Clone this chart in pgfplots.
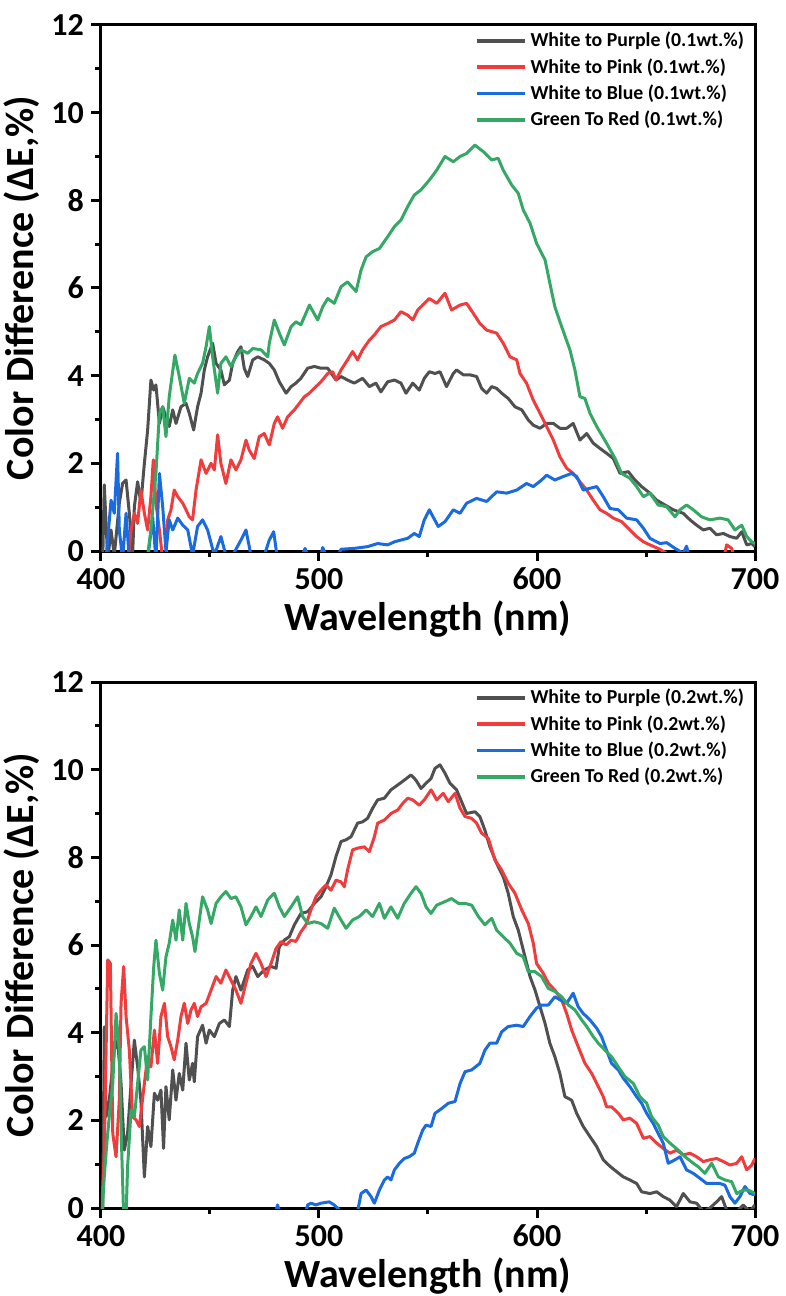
\documentclass[border=0pt]{standalone}
\usepackage{fontspec}
\setmainfont{Carlito}
\usepackage{pgfplots}
\pgfplotsset{compat=1.18}
\definecolor{cgray}{HTML}{505050}
\definecolor{cred}{HTML}{F03C3C}
\definecolor{cblue}{HTML}{1A6BE0}
\definecolor{cgreen}{HTML}{35A866}

\pgfplotsset{
  panel/.style={
    width=327pt, height=263pt, scale only axis,
    xmin=400, xmax=700, ymin=0, ymax=12,
    xtick={400,500,600,700}, ytick={0,2,4,6,8,10,12},
    minor x tick num=1, minor y tick num=1,
    tick align=outside, tick pos=left,
    axis line style={line width=1.5pt},
    major tick length=5pt, minor tick length=3pt,
    every tick/.style={black, line width=1.5pt},
    /pgf/number format/assume math mode=true,
    tick label style={font=\fontsize{16}{18}\selectfont\bfseries},
    label style={font=\fontsize{20}{23}\selectfont\bfseries},
    xlabel={Wavelength (nm)},
    ylabel={Color Difference (ΔE,\%)},
    xlabel style={yshift=1.5pt},
    ylabel style={yshift=-1pt},
    legend style={at={(rel axis cs:0.99,0.995)}, anchor=north east,
      draw=none, fill=none, inner sep=0pt, row sep=0.3pt,
      font=\fontsize{9.9}{12.5}\selectfont\bfseries},
    legend cell align=left,
    legend image code/.code={\draw[#1, line width=1.8pt] (0pt,0pt) -- (24pt,0pt);},
    every axis plot/.append style={line width=1.5pt, line join=round},
  }
}

\begin{document}
\begin{tikzpicture}
\useasboundingbox (-50.5pt,-372.5pt) rectangle (342.5pt,275.5pt);

% upper panel, 0.1 wt.%
\begin{axis}[panel, at={(0pt,0pt)}, anchor=south west]
\addplot[cgray] coordinates {
(400.8,-0.2) (401.5,1.51) (403.1,-0.2) (404.6,0.48) (406.1,-0.1) (408.4,1.09) (409.9,1.54) (411.5,1.62)
(413.0,0.86) (414.5,-0.1) (415.3,1.01) (416.8,1.58) (418.3,1.09) (419.9,2.0) (421.4,2.76) (422.9,3.90)
(424.2,3.67) (425.2,3.79) (426.8,2.91) (428.3,3.29) (429.8,3.06) (431.3,2.84) (432.9,3.22) (434.4,2.91)
(436.7,3.29) (439.0,3.37) (440.5,3.14) (442.5,2.76) (444.3,3.29) (445.9,3.60) (447.4,4.13) (448.9,4.43)
(451.2,4.74) (452.8,4.28) (455.0,4.13) (456.6,3.79) (458.9,3.90) (460.4,4.28) (462.7,4.55) (464.2,4.66)
(465.7,4.17) (467.3,3.98) (469.6,4.36) (471.9,4.43) (474.9,4.36) (477.2,4.28) (479.5,4.13) (481.8,3.86)
(484.9,3.60) (487.2,3.75) (489.4,3.83) (491.7,3.94) (494.8,4.17) (497.9,4.21) (500.9,4.17) (504.0,4.17)
(507.8,3.90) (510.1,3.98) (513.1,3.90) (516.2,3.83) (520.0,3.94) (523.1,3.75) (526.1,3.83) (528.4,3.63)
(531.5,3.86) (534.6,3.90) (537.6,3.83) (539.9,3.60) (543.0,3.83) (546.0,3.67) (548.3,3.94) (550.6,4.09)
(553.2,4.05) (555.5,4.09) (558.5,3.75) (561.6,4.05) (563.1,4.13) (566.2,4.02) (569.2,4.02) (572.3,3.98)
(574.6,3.71) (576.9,3.60) (579.2,3.75) (581.5,3.71) (583.8,3.60) (586.8,3.48) (589.9,3.29) (593.0,3.22)
(596.0,2.99) (598.3,2.87) (601.4,2.80) (604.4,2.91) (607.5,2.91) (610.5,2.80) (613.6,2.80) (616.6,2.91)
(619.7,2.53) (622.8,2.68) (625.8,2.46) (628.9,2.34) (631.9,2.23) (635.0,2.11) (638.1,1.77) (641.9,1.81)
(644.9,1.62) (648.0,1.47) (651.8,1.32) (654.9,1.16) (658.7,1.05) (662.5,0.94) (667.1,0.86) (670.2,0.71)
(673.2,0.59) (676.3,0.48) (679.3,0.52) (682.4,0.37) (685.5,0.40) (688.5,0.33) (691.6,0.29) (693.9,0.44)
(696.2,0.14) (698.5,0.17) (700.0,0.10)
};
\addlegendentry{White to Purple (0.1wt.\%)}
\addplot[cred] coordinates {
(412.5,-0.2) (413.8,0.48) (415.3,0.86) (416.8,0.63) (418.3,1.39) (419.9,0.86) (421.4,0.48) (422.9,1.24)
(424.0,2.08) (425.2,1.09) (426.8,0.48) (428.3,-0.2) (429.8,-0.2) (430.6,0.71) (432.1,0.94) (433.6,1.39)
(435.2,1.24) (437.5,1.09) (439.0,0.94) (440.5,0.78) (442.0,0.71) (443.6,1.39) (445.9,2.08) (448.2,1.77)
(450.5,2.00) (452.0,1.85) (453.5,2.65) (455.0,2.00) (457.3,1.54) (459.6,2.08) (461.9,1.85) (464.2,2.08)
(466.5,2.53) (468.0,2.30) (470.3,2.11) (472.6,2.61) (474.9,2.68) (477.2,2.42) (479.5,2.91) (481.0,3.06)
(483.3,2.80) (485.6,3.06) (488.7,3.22) (491.0,3.37) (493.3,3.52) (495.6,3.60) (498.6,3.75) (500.9,3.86)
(504.0,4.05) (506.3,4.09) (507.8,3.90) (510.1,4.13) (513.1,4.36) (515.4,4.55) (517.7,4.36) (520.0,4.59)
(523.1,4.81) (525.4,4.93) (528.4,5.12) (531.5,5.19) (534.6,5.27) (537.6,5.46) (540.7,5.38) (543.0,5.27)
(545.3,5.50) (548.3,5.65) (550.6,5.76) (554.0,5.65) (557.8,5.88) (560.8,5.50) (564.7,5.61) (567.7,5.65)
(570.8,5.42) (573.8,5.19) (576.9,5.04) (581.5,4.97) (584.5,4.74) (587.6,4.43) (590.7,4.36) (592.2,4.05)
(595.2,3.83) (598.3,3.44) (601.4,3.14) (604.4,2.84) (607.5,2.53) (610.5,2.15) (613.6,1.89) (616.6,1.77)
(619.7,1.58) (622.8,1.39) (625.8,1.16) (628.9,0.94) (631.9,0.86) (635.0,0.75) (638.8,0.67) (642.6,0.48)
(645.7,0.33) (648.8,0.21) (651.8,0.14) (656.4,0.04) (661.0,-0.1) (667.1,-0.2) (685.5,-0.2) (687.0,0.14)
(689.3,0.06) (690.8,-0.2)
};
\addlegendentry{White to Pink (0.1wt.\%)}
\addplot[cblue] coordinates {
(402.3,-0.2) (404.6,1.16) (406.1,0.86) (407.6,2.23) (408.4,0.48) (409.9,-0.2) (411.5,0.86) (413.0,-0.2)
(421.4,-0.2) (423.7,0.78) (425.2,-0.2) (426.8,1.77) (428.3,1.01) (429.8,0.0) (431.3,0.71) (432.9,0.48)
(435.2,0.75) (437.5,0.59) (439.8,0.48) (442.0,-0.1) (444.3,0.56) (446.6,0.71) (448.9,0.48) (452.0,-0.1)
(455.0,0.33) (457.3,-0.1) (460.4,-0.1) (464.2,0.25) (466.5,0.48) (468.8,-0.1) (474.9,-0.1) (477.2,0.25)
(479.2,0.44) (481.0,-0.2) (491.7,-0.2) (493.6,0.06) (494.8,-0.1) (500.9,-0.1) (501.7,0.08) (503.2,-0.1)
(509.3,-0.05) (510.1,0.04) (516.2,0.06) (522.3,0.10) (526.9,0.17) (531.5,0.14) (534.6,0.21) (537.6,0.25)
(540.7,0.29) (543.7,0.40) (546.0,0.33) (548.3,0.71) (550.6,0.94) (554.7,0.56) (557.8,0.67) (561.6,0.94)
(564.7,0.86) (567.7,1.09) (572.3,1.20) (576.9,1.13) (581.5,1.35) (586.1,1.32) (590.7,1.39) (595.2,1.54)
(598.3,1.47) (602.1,1.62) (604.4,1.73) (608.2,1.62) (612.1,1.70) (615.9,1.77) (618.2,1.70) (621.2,1.39)
(624.3,1.43) (627.4,1.47) (630.4,1.24) (633.5,0.97) (637.3,0.94) (641.1,0.75) (645.7,0.71) (648.8,0.52)
(651.8,0.29) (656.4,0.17) (659.5,0.19) (663.3,0.06) (667.1,-0.05) (668.6,0.11) (670.2,-0.2)
};
\addlegendentry{White to Blue (0.1wt.\%)}
\addplot[cgreen] coordinates {
(421.4,-0.1) (422.9,0.48) (425.2,1.77) (426.8,3.14) (428.3,3.29) (429.8,2.61) (431.3,3.52) (433.9,4.47)
(435.9,3.98) (438.2,3.37) (440.5,3.94) (442.8,3.83) (444.3,4.05) (446.6,4.28) (448.2,4.66) (449.7,5.12)
(451.2,4.43) (453.5,3.60) (455.0,4.28) (457.3,4.43) (459.6,4.21) (461.9,4.43) (464.2,4.59) (467.3,4.51)
(469.6,4.62) (473.4,4.59) (476.5,4.43) (477.2,4.74) (479.5,5.27) (481.8,4.97) (484.1,4.70) (487.2,5.12)
(489.4,5.23) (491.7,5.16) (495.6,5.61) (499.4,5.27) (501.7,5.57) (504.0,5.76) (507.0,5.65) (510.1,6.03)
(513.1,6.14) (517.0,5.92) (519.3,6.41) (521.6,6.71) (524.6,6.83) (527.7,6.90) (531.5,7.17) (534.6,7.40)
(537.6,7.55) (540.7,7.86) (543.7,8.12) (546.8,8.24) (550.6,8.46) (554.0,8.69) (557.8,9.00) (561.6,8.88)
(564.7,9.00) (567.7,9.07) (571.5,9.26) (575.4,9.11) (579.2,8.92) (582.2,8.96) (584.5,8.69) (588.4,8.35)
(591.4,8.16) (593.7,7.78) (596.8,7.48) (599.8,7.02) (603.7,6.64) (605.9,6.11) (608.2,5.57) (611.3,5.12)
(615.1,4.59) (617.4,4.13) (619.7,3.52) (622.0,3.48) (624.3,3.14) (627.4,2.84) (631.9,2.46) (635.8,2.11)
(638.8,1.77) (642.6,1.66) (645.7,1.47) (648.8,1.24) (651.8,1.32) (655.6,1.05) (659.5,1.01) (663.3,0.78)
(665.6,0.94) (668.6,1.05) (671.7,0.94) (675.5,0.78) (679.3,0.71) (683.9,0.75) (687.7,0.71) (690.8,0.48)
(693.9,0.59) (696.2,0.33) (698.5,0.21) (700.0,0.17)
};
\addlegendentry{Green To Red (0.1wt.\%)}
\end{axis}

% lower panel, 0.2 wt.%
\begin{axis}[panel, at={(0pt,-328.5pt)}, anchor=south west]
\addplot[cgray] coordinates {
(400.8,-0.2) (401.5,4.13) (402.3,2.08) (403.8,2.46) (406.1,3.60) (407.6,3.83) (409.2,2.84) (410.7,1.32)
(412.2,1.70) (413.8,2.84) (415.3,3.83) (416.8,3.22) (418.3,2.46) (419.9,0.71) (421.4,1.86) (422.9,1.40)
(424.5,2.62) (426.0,2.46) (427.5,2.69) (428.7,1.36) (429.8,2.77) (431.3,2.01) (432.9,3.15) (434.4,2.46)
(435.9,3.07) (437.5,2.69) (439.0,3.76) (440.5,2.92) (442.0,3.30) (442.8,2.88) (444.3,3.91) (446.6,4.17)
(448.2,3.76) (449.7,4.06) (452.0,3.91) (454.3,4.21) (456.6,4.29) (458.9,4.14) (460.4,4.97) (461.9,5.28)
(464.2,4.97) (467.3,5.43) (469.6,5.51) (471.9,5.28) (474.9,5.43) (478.0,5.51) (480.3,5.47) (481.8,5.96)
(484.1,6.11) (486.4,6.19) (488.7,6.46) (491.7,6.72) (494.8,6.76) (497.9,6.95) (500.9,7.10) (503.2,7.33)
(505.5,7.60) (507.8,8.02) (510.1,8.36) (512.4,8.40) (514.7,8.47) (517.7,8.78) (520.0,8.81) (522.3,8.89)
(524.6,9.12) (526.9,9.31) (530.0,9.35) (533.0,9.54) (536.1,9.65) (539.1,9.76) (542.2,9.88) (544.5,9.76)
(546.8,9.57) (549.1,9.69) (551.4,9.80) (553.2,10.03) (555.5,10.11) (557.8,9.92) (560.1,9.69) (563.1,9.54)
(565.4,9.27) (567.7,9.00) (571.5,9.04) (573.8,8.93) (576.1,8.62) (578.4,8.24) (581.5,7.86) (584.5,7.56)
(586.8,7.18) (589.1,6.65) (591.4,6.34) (594.5,5.73) (596.8,5.28) (599.1,4.97) (601.4,4.59) (603.7,4.21)
(605.9,3.76) (608.2,3.45) (610.5,3.07) (612.8,2.54) (615.9,2.46) (618.2,2.16) (621.2,1.86) (624.3,1.63)
(627.4,1.40) (630.4,1.10) (633.5,0.95) (636.5,0.83) (639.6,0.71) (642.6,0.64) (645.7,0.56) (648.0,0.37)
(651.8,0.33) (654.9,0.37) (657.9,0.26) (661.0,0.18) (664.0,0.03) (667.1,0.33) (670.2,0.14) (673.2,0.11)
(676.3,-0.08) (679.3,0.0) (682.4,0.14) (684.7,0.26) (687.0,-0.05) (691.6,-0.08) (694.6,0.07) (697.7,-0.08)
(700.0,0.07)
};
\addlegendentry{White to Purple (0.2wt.\%)}
\addplot[cred] coordinates {
(400.3,-0.1) (401.5,1.32) (403.1,5.66) (404.3,5.58) (405.4,1.70) (406.9,1.17) (408.4,2.46) (409.2,4.67)
(410.4,5.51) (411.5,4.37) (413.0,3.60) (414.5,2.08) (416.1,2.01) (417.6,1.86) (418.3,2.16) (419.9,2.84)
(421.4,3.45) (422.9,3.22) (424.5,4.06) (426.0,3.30) (427.5,4.37) (429.1,4.67) (430.6,3.91) (432.1,3.68)
(433.6,3.38) (435.2,3.83) (436.7,4.37) (438.2,4.67) (439.8,4.21) (441.3,4.52) (442.8,4.67) (444.3,4.37)
(445.9,4.59) (448.2,4.67) (450.5,4.97) (452.8,5.28) (455.0,5.13) (457.3,5.43) (459.6,5.20) (461.9,4.97)
(464.2,4.67) (466.5,5.13) (468.8,5.58) (471.1,5.81) (473.4,5.58) (475.7,5.28) (478.0,5.58) (480.3,5.92)
(482.6,6.08) (484.9,6.00) (487.2,6.11) (489.4,6.08) (491.7,6.30) (494.0,6.46) (496.3,6.80) (498.6,7.10)
(500.9,7.25) (503.2,7.37) (505.5,7.25) (507.8,7.48) (510.1,7.44) (511.6,7.33) (513.1,7.71) (515.4,8.17)
(517.7,8.21) (520.8,8.24) (523.1,8.13) (525.4,8.47) (526.9,8.78) (530.0,8.85) (533.0,9.00) (536.1,9.08)
(538.4,9.23) (540.7,9.35) (543.0,9.31) (546.0,9.19) (548.3,9.31) (551.4,9.54) (554.0,9.31) (557.0,9.46)
(559.3,9.27) (562.4,9.46) (564.7,9.12) (567.0,8.93) (570.0,8.89) (572.3,8.78) (574.6,8.55) (577.7,8.43)
(580.7,7.94) (583.8,7.71) (586.8,7.41) (589.9,7.18) (593.0,6.80) (596.0,6.49) (598.3,6.04) (599.8,5.58)
(602.9,5.35) (605.2,5.13) (608.2,4.97) (611.3,4.75) (613.6,4.44) (615.9,4.06) (618.9,3.68) (622.0,3.30)
(625.1,3.07) (628.1,2.77) (630.4,2.54) (631.9,2.31) (634.2,2.31) (637.3,2.16) (639.6,2.01) (642.6,2.05)
(645.7,1.93) (648.8,1.59) (651.8,1.63) (654.9,1.48) (657.9,1.36) (661.0,1.25) (664.0,1.32) (667.1,1.21)
(670.2,1.25) (673.2,1.17) (676.3,1.06) (679.3,1.10) (682.4,1.13) (685.5,1.06) (688.5,0.98) (691.6,1.02)
(693.9,1.17) (696.2,0.87) (698.5,0.98) (700.0,1.13)
};
\addlegendentry{White to Pink (0.2wt.\%)}
\addplot[cblue] coordinates {
(479.5,-0.2) (481.0,0.07) (482.6,-0.2) (493.3,-0.2) (494.8,0.07) (496.3,0.11) (498.6,0.07) (500.9,0.11)
(504.7,0.14) (507.0,0.07) (510.1,-0.08) (517.7,-0.08) (519.3,0.33) (521.6,0.41) (523.9,0.26) (525.4,0.11)
(527.7,0.41) (530.0,0.64) (531.5,0.71) (533.0,0.64) (534.6,0.87) (536.9,1.02) (539.1,1.13) (541.4,1.17)
(543.7,1.25) (545.3,1.48) (547.6,1.78) (549.1,1.89) (551.4,1.86) (553.2,2.16) (556.3,2.27) (559.3,2.39)
(562.4,2.43) (564.7,2.84) (567.0,3.11) (570.0,3.15) (573.8,3.30) (576.1,3.60) (578.4,3.76) (581.5,3.76)
(583.8,4.02) (586.8,4.14) (590.7,4.17) (593.7,4.14) (596.8,4.37) (599.8,4.56) (602.1,4.63) (605.2,4.63)
(608.2,4.82) (610.5,4.75) (613.6,4.67) (616.6,4.90) (618.9,4.59) (621.2,4.44) (624.3,4.29) (627.4,4.10)
(629.6,3.91) (631.9,3.60) (634.2,3.30) (637.3,3.15) (639.6,2.96) (642.6,2.77) (645.7,2.54) (648.0,2.39)
(650.3,2.16) (653.3,1.93) (655.6,1.70) (657.9,1.48) (660.2,1.02) (663.3,1.10) (665.6,1.17) (668.6,0.87)
(671.7,0.79) (674.7,0.68) (677.8,0.56) (680.9,0.56) (683.9,0.56) (686.2,0.52) (688.5,0.26) (690.8,0.11)
(693.1,0.26) (695.4,0.49) (697.7,0.33) (700.0,0.30)
};
\addlegendentry{White to Blue (0.2wt.\%)}
\addplot[cgreen] coordinates {
(400.5,-0.1) (401.5,0.71) (402.8,1.55) (403.8,2.08) (405.4,2.84) (406.9,4.44) (408.4,3.60) (409.5,1.32)
(410.4,-0.2) (411.5,-0.2) (412.2,0.94) (413.8,2.24) (415.3,2.08) (416.8,2.84) (418.3,3.60) (419.9,3.68)
(421.4,2.92) (422.9,4.37) (424.2,5.51) (425.2,6.11) (426.8,5.35) (428.3,4.97) (429.8,5.73) (431.3,6.04)
(432.9,6.57) (434.4,6.11) (435.9,6.80) (437.5,6.11) (439.0,6.95) (440.5,6.49) (442.0,6.19) (443.1,5.85)
(445.1,6.57) (446.6,7.10) (448.9,6.80) (450.5,6.49) (452.8,6.95) (455.0,7.10) (457.3,7.22) (459.6,7.06)
(461.9,7.10) (464.2,6.87) (466.5,6.46) (468.8,6.65) (471.1,6.87) (473.4,6.65) (476.5,7.03) (479.5,7.18)
(481.8,6.87) (484.1,6.65) (487.2,6.87) (490.2,7.10) (492.5,6.65) (494.8,6.49) (497.9,6.53) (500.9,6.49)
(504.0,6.38) (507.0,6.84) (510.1,6.57) (512.4,6.38) (515.4,6.57) (518.5,6.65) (521.6,6.80) (524.6,6.65)
(527.7,6.95) (530.0,6.61) (533.0,6.87) (536.1,6.61) (539.1,6.95) (542.2,7.18) (544.5,7.33) (546.8,7.18)
(549.1,6.87) (551.4,6.72) (554.0,6.91) (557.8,6.99) (560.8,7.06) (563.9,6.95) (567.0,6.95) (570.0,6.91)
(573.1,6.65) (576.1,6.46) (579.2,6.61) (581.5,6.34) (584.5,6.19) (587.6,6.04) (590.7,5.81) (593.7,5.73)
(596.0,5.39) (599.1,5.39) (602.1,5.28) (605.2,5.01) (608.2,4.94) (611.3,4.82) (614.4,4.63) (617.4,4.52)
(620.5,4.29) (622.8,4.14) (625.8,3.91) (628.1,3.76) (631.2,3.60) (634.2,3.45) (637.3,3.22) (640.3,3.00)
(644.2,2.84) (647.2,2.54) (650.3,2.39) (652.6,2.08) (655.6,1.89) (657.9,1.63) (661.0,1.48) (664.8,1.32)
(667.9,1.17) (671.7,1.02) (674.0,0.94) (677.0,0.79) (680.1,1.02) (683.2,0.71) (686.2,0.64) (689.3,0.60)
(691.6,0.33) (694.6,0.41) (697.0,0.41) (700.0,0.33)
};
\addlegendentry{Green To Red (0.2wt.\%)}
\end{axis}
\end{tikzpicture}
\end{document}
